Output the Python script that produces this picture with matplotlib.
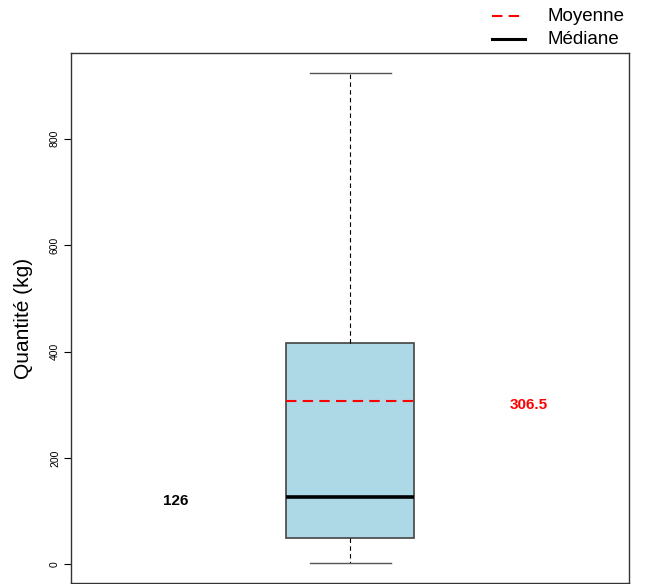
import matplotlib
matplotlib.use("AGG")
import matplotlib.pyplot as plt

plt.rcParams["font.family"] = ["Liberation Sans", "DejaVu Sans"]

# box statistics (kg)
whislo = 2
q1 = 49
median = 126
q3 = 416
whishi = 924
mean = 306.5
yticks = [0, 200, 400, 600, 800]

fig = plt.figure(figsize=(6.46, 5.84), dpi=100)
ax = fig.add_axes([0.110, 0.002, 0.864, 0.907])

stats = [{"whislo": whislo, "q1": q1, "med": median, "q3": q3, "whishi": whishi,
          "mean": mean, "fliers": []}]
ax.bxp(stats, positions=[1], widths=0.46, patch_artist=True, showmeans=True,
       meanline=True, showfliers=False,
       boxprops=dict(facecolor="#add8e6", edgecolor="#444444", linewidth=1.2),
       medianprops=dict(color="black", linewidth=2.6),
       meanprops=dict(color="red", linestyle=(0, (5, 3)), linewidth=1.5),
       whiskerprops=dict(color="black", linestyle=(0, (4, 3)), linewidth=0.8),
       capprops=dict(color="#555555", linewidth=1.0),
       capwidths=0.29)

ax.annotate(str(median), (0.375, median), xytext=(0, -3), textcoords="offset points",
            fontsize=11, fontweight="bold", ha="center", va="center", color="black")
ax.annotate(str(mean), (1.64, mean), xytext=(0, -3), textcoords="offset points",
            fontsize=11, fontweight="bold", ha="center", va="center", color="red")

ax.set_xlim(0, 2)
span = whishi - whislo
ax.set_ylim(whislo - 0.04 * span, whishi + 0.04 * span)
ax.set_xticks([])
ax.set_yticks(yticks)
ax.set_yticklabels([str(t) for t in yticks], rotation=90, va="center", fontsize=7.5)
ax.tick_params(axis="y", length=5, pad=3)
ax.set_ylabel("Quantité (kg)", fontsize=15, labelpad=12)
for s in ax.spines.values():
    s.set_color("#333333")
    s.set_linewidth(1.0)

# legend outside at top right
fig.lines.append(plt.Line2D([0.762, 0.813], [0.972, 0.972], transform=fig.transFigure,
                            color="red", linestyle=(0, (5, 3)), linewidth=1.5))
fig.lines.append(plt.Line2D([0.762, 0.813], [0.933, 0.933], transform=fig.transFigure,
                            color="black", linewidth=2.2))
fig.text(0.848, 0.972, "Moyenne", fontsize=13.5, va="center")
fig.text(0.848, 0.933, "Médiane", fontsize=13.5, va="center")

fig.savefig("out.png", dpi=100)
